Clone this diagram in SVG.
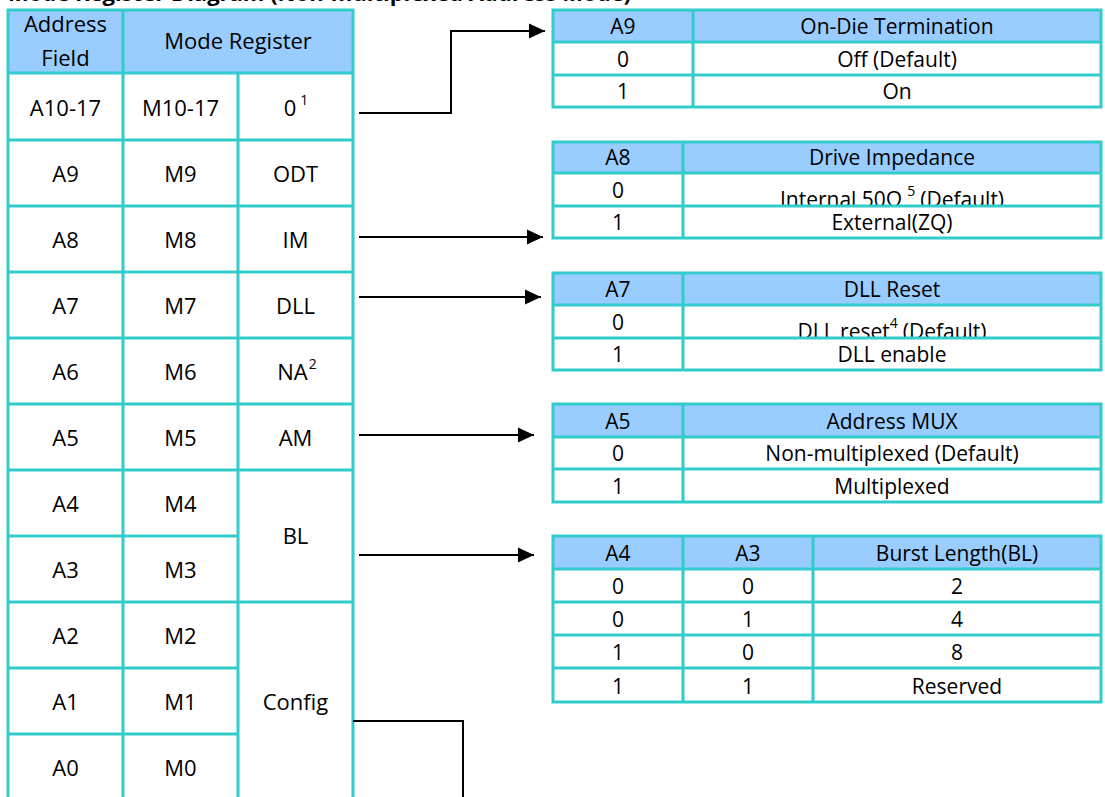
<svg xmlns="http://www.w3.org/2000/svg" width="1105" height="797" viewBox="0 0 1105 797">
<style>
  .grid { stroke: #33CCCC; stroke-width: 3; fill: none; stroke-linecap: square; }
  .hdr { fill: #99CCFF; }
  .t { font-family: "Open Sans", "Noto Sans", "Liberation Sans", sans-serif; font-size: 22px; fill: #000; text-anchor: middle; }
  .r { font-family: "Open Sans", "Noto Sans", "Liberation Sans", sans-serif; font-size: 21px; fill: #000; text-anchor: middle; }
  .title { font-family: "Open Sans", "Noto Sans", "Liberation Sans", sans-serif; font-size: 22px; font-weight: bold; fill: #000; }
  .sup { font-size: 14px; }
  .conn { stroke: #000; stroke-width: 2; fill: none; }
</style>
<defs>
  <marker id="arrow" markerUnits="userSpaceOnUse" markerWidth="16" markerHeight="16" refX="16" refY="8" orient="auto">
    <path d="M0,0.5 L16,8 L0,15.5 Z" fill="#000"/>
  </marker>
  <clipPath id="clipA8"><rect x="683" y="173" width="418" height="32"/></clipPath>
  <clipPath id="clipA7"><rect x="683" y="305" width="418" height="32"/></clipPath>
</defs>
<rect width="1105" height="797" fill="#fff"/>

<text class="title" x="8" y="1">Mode Register Diagram (Non-multiplexed Address Mode)</text>

<g id="mode-register">
  <rect class="hdr" x="8" y="10" width="345" height="63"/>
  <path class="grid" d="M8,10 H353 M8,73 H353 M8,140 H353 M8,206 H353 M8,272 H353 M8,338 H353 M8,404 H353 M8,470 H353 M8,536 H238 M8,602 H353 M8,668 H238 M8,734 H238 M8,10 V800 M123,10 V800 M238,73 V800 M353,10 V800"/>
  <text class="t" x="65.5" y="32">Address</text>
  <text class="t" x="65.5" y="66">Field</text>
  <text class="t" x="238" y="49">Mode Register</text>
  <text class="t" x="65.5" y="116">A10-17</text>
  <text class="t" x="180.5" y="116">M10-17</text>
  <text class="t" x="296" y="116">0<tspan class="sup" dx="4" dy="-11">1</tspan></text>
  <text class="t" x="65.5" y="182">A9</text>
  <text class="t" x="180.5" y="182">M9</text>
  <text class="t" x="295.5" y="182">ODT</text>
  <text class="t" x="65.5" y="248">A8</text>
  <text class="t" x="180.5" y="248">M8</text>
  <text class="t" x="295.5" y="248">IM</text>
  <text class="t" x="65.5" y="314">A7</text>
  <text class="t" x="180.5" y="314">M7</text>
  <text class="t" x="295.5" y="314">DLL</text>
  <text class="t" x="65.5" y="380">A6</text>
  <text class="t" x="180.5" y="380">M6</text>
  <text class="t" x="297" y="380">NA<tspan class="sup" dx="1" dy="-11">2</tspan></text>
  <text class="t" x="65.5" y="446">A5</text>
  <text class="t" x="180.5" y="446">M5</text>
  <text class="t" x="295.5" y="446">AM</text>
  <text class="t" x="65.5" y="512">A4</text>
  <text class="t" x="180.5" y="512">M4</text>
  <text class="t" x="295.5" y="544">BL</text>
  <text class="t" x="65.5" y="578">A3</text>
  <text class="t" x="180.5" y="578">M3</text>
  <text class="t" x="65.5" y="644">A2</text>
  <text class="t" x="180.5" y="644">M2</text>
  <text class="t" x="65.5" y="710">A1</text>
  <text class="t" x="180.5" y="710">M1</text>
  <text class="t" x="295.5" y="710">Config</text>
  <text class="t" x="65.5" y="776">A0</text>
  <text class="t" x="180.5" y="776">M0</text>
</g>

<g id="table-odt">
  <rect class="hdr" x="553" y="10" width="548" height="32"/>
  <path class="grid" d="M553,10 H1101 M553,42 H1101 M553,75 H1101 M553,107 H1101 M553,10 V107 M693,10 V107 M1101,10 V107"/>
  <text class="r" x="623" y="34">A9</text>
  <text class="r" x="897" y="34">On-Die Termination</text>
  <text class="r" x="623" y="67">0</text>
  <text class="r" x="897" y="67">Off (Default)</text>
  <text class="r" x="623" y="99">1</text>
  <text class="r" x="897" y="99">On</text>
</g>

<g id="table-im">
  <rect class="hdr" x="553" y="142" width="548" height="31"/>
  <text class="r" x="892" y="207" clip-path="url(#clipA8)">Internal 50Ω<tspan class="sup" dx="5" dy="-11">5</tspan><tspan dx="5" dy="11">(Default)</tspan></text>
  <path class="grid" d="M553,142 H1101 M553,173 H1101 M553,206 H1101 M553,238 H1101 M553,142 V238 M683,142 V238 M1101,142 V238"/>
  <text class="r" x="618" y="165">A8</text>
  <text class="r" x="892" y="165">Drive Impedance</text>
  <text class="r" x="618" y="198">0</text>
  <text class="r" x="618" y="230">1</text>
  <text class="r" x="892" y="230">External(ZQ)</text>
</g>

<g id="table-dll">
  <rect class="hdr" x="553" y="273" width="548" height="32"/>
  <text class="r" x="892" y="339" clip-path="url(#clipA7)">DLL reset<tspan class="sup" dy="-11">4</tspan><tspan dx="5" dy="11">(Default)</tspan></text>
  <path class="grid" d="M553,273 H1101 M553,305 H1101 M553,338 H1101 M553,370 H1101 M553,273 V370 M683,273 V370 M1101,273 V370"/>
  <text class="r" x="618" y="297">A7</text>
  <text class="r" x="892" y="297">DLL Reset</text>
  <text class="r" x="618" y="330">0</text>
  <text class="r" x="618" y="362">1</text>
  <text class="r" x="892" y="362">DLL enable</text>
</g>

<g id="table-am">
  <rect class="hdr" x="553" y="404" width="548" height="33"/>
  <path class="grid" d="M553,404 H1101 M553,437 H1101 M553,469 H1101 M553,502 H1101 M553,404 V502 M683,404 V502 M1101,404 V502"/>
  <text class="r" x="618" y="429">A5</text>
  <text class="r" x="892" y="429">Address MUX</text>
  <text class="r" x="618" y="461">0</text>
  <text class="r" x="892" y="461">Non-multiplexed (Default)</text>
  <text class="r" x="618" y="494">1</text>
  <text class="r" x="892" y="494">Multiplexed</text>
</g>

<g id="table-bl">
  <rect class="hdr" x="553" y="536" width="548" height="33"/>
  <path class="grid" d="M553,536 H1101 M553,569 H1101 M553,602 H1101 M553,635 H1101 M553,668 H1101 M553,702 H1101 M553,536 V702 M683,536 V702 M813,536 V702 M1101,536 V702"/>
  <text class="r" x="618" y="561">A4</text>
  <text class="r" x="748" y="561">A3</text>
  <text class="r" x="957" y="561">Burst Length(BL)</text>
  <text class="r" x="618" y="594">0</text>
  <text class="r" x="748" y="594">0</text>
  <text class="r" x="957" y="594">2</text>
  <text class="r" x="618" y="627">0</text>
  <text class="r" x="748" y="627">1</text>
  <text class="r" x="957" y="627">4</text>
  <text class="r" x="618" y="660">1</text>
  <text class="r" x="748" y="660">0</text>
  <text class="r" x="957" y="660">8</text>
  <text class="r" x="618" y="694">1</text>
  <text class="r" x="748" y="694">1</text>
  <text class="r" x="957" y="694">Reserved</text>
</g>

<g id="connectors">
  <path class="conn" d="M359,113 H451 V31 H545" marker-end="url(#arrow)"/>
  <path class="conn" d="M359,237 H543" marker-end="url(#arrow)"/>
  <path class="conn" d="M359,297 H541" marker-end="url(#arrow)"/>
  <path class="conn" d="M359,435 H534" marker-end="url(#arrow)"/>
  <path class="conn" d="M359,555 H534" marker-end="url(#arrow)"/>
  <path class="conn" d="M353,721 H463 V797"/>
</g>
</svg>
